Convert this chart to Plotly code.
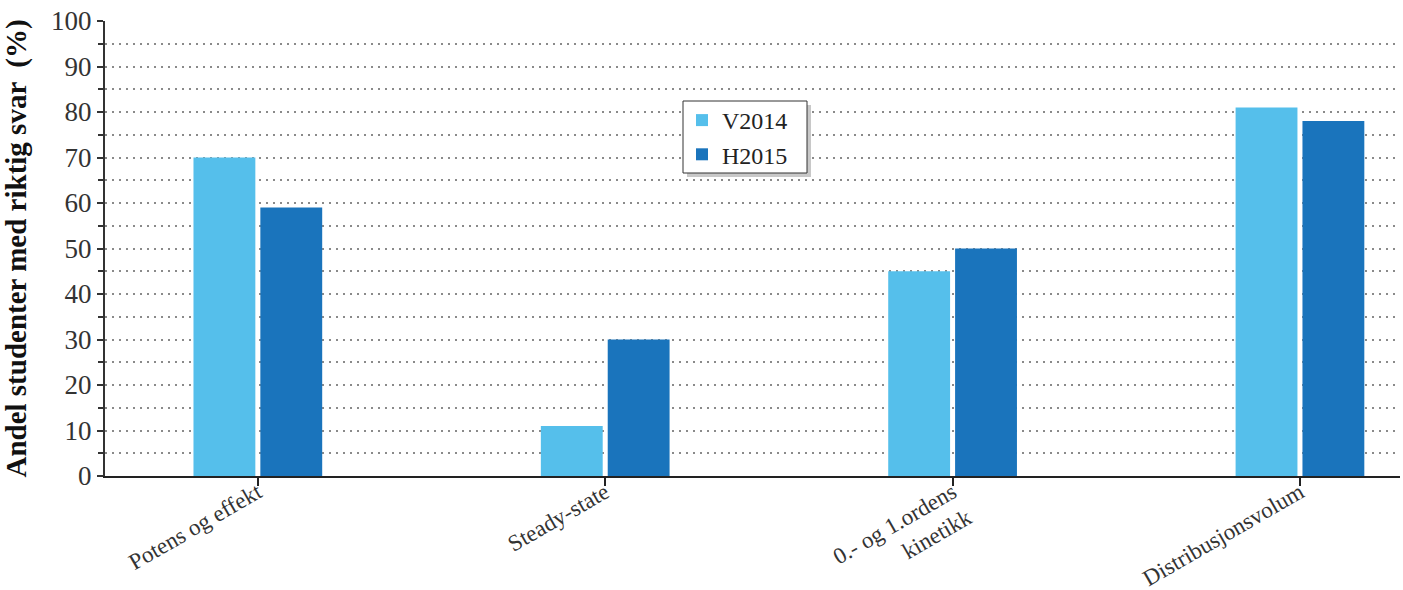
import plotly.graph_objects as go

# Survey results: share of students answering correctly, per topic
categories = ["Potens og effekt", "Steady-state", "0.- og 1.ordens<br>kinetikk", "Distribusjonsvolum"]
v2014 = [70, 11, 45, 81]
h2015 = [59, 30, 50, 78]
series_names = ["V2014", "H2015"]
y_ticks = list(range(0, 101, 10))

LIGHT = "#55BFEB"
DARK = "#1A74BC"
SERIF = "Liberation Serif, Times New Roman, serif"

fig = go.Figure()
fig.add_bar(name=series_names[0], x=categories, y=v2014, marker=dict(color=LIGHT, line=dict(width=0)))
fig.add_bar(name=series_names[1], x=categories, y=h2015, marker=dict(color=DARK, line=dict(width=0)))

W, H = 1403, 590
L, R, T, B = 105, 3, 21, 114
pw, ph = W - L - R, H - T - B


def px_x(x):
    return (x - L) / pw


def px_y(y):
    return (H - B - y) / ph


# framed legend box with a soft drop shadow; the legend entries sit on top
lg_x0, lg_y0, lg_x1, lg_y1 = 683, 101, 807, 173
fig.add_shape(type="rect", xref="paper", yref="paper",
              x0=px_x(lg_x0 + 4), x1=px_x(lg_x1 + 4), y0=px_y(lg_y1 + 4), y1=px_y(lg_y0 + 4),
              fillcolor="#c8c8c8", line=dict(width=0), layer="above")
fig.add_shape(type="rect", xref="paper", yref="paper",
              x0=px_x(lg_x0), x1=px_x(lg_x1), y0=px_y(lg_y1), y1=px_y(lg_y0),
              fillcolor="white", line=dict(color="#333333", width=1), layer="above")

fig.update_layout(
    width=W, height=H,
    margin=dict(l=L, r=R, t=T, b=B, pad=0),
    paper_bgcolor="white", plot_bgcolor="white",
    barmode="group", bargap=0.615, bargroupgap=0.075,
    font=dict(family=SERIF, color="#333333"),
    legend=dict(
        x=px_x(682), y=px_y(98), xanchor="left", yanchor="top",
        bgcolor="rgba(0,0,0,0)", borderwidth=0,
        font=dict(family=SERIF, size=24, color="#222222"),
        tracegroupgap=0, itemsizing="constant",
    ),
    showlegend=True,
)

fig.update_xaxes(
    range=[-0.44, 3.288], showline=True, linecolor="#222222", linewidth=2,
    ticks="outside", ticklen=8, tickwidth=2, tickcolor="#222222",
    tickangle=-30, tickfont=dict(family=SERIF, size=23, color="#333333"),
    ticklabelstandoff=-16,
    showgrid=False, zeroline=False, automargin=False,
)
fig.update_yaxes(
    range=[0, 100], tickvals=y_ticks, showline=True, linecolor="#333333", linewidth=2,
    ticks="outside", ticklen=6, tickwidth=1.5, tickcolor="#333333",
    tickfont=dict(family=SERIF, size=27, color="#333333"),
    showgrid=True, gridcolor="#8a8a8a", gridwidth=1.5, griddash="2px,5px",
    minor=dict(dtick=5, ticks="outside", ticklen=5, tickcolor="#333333",
               showgrid=True, gridcolor="#8a8a8a", gridwidth=1.5, griddash="2px,5px"),
    zeroline=False, automargin=False,
    title=dict(text="<b>Andel studenter med riktig svar  (%)</b>",
               font=dict(family=SERIF, size=29, color="#111111"), standoff=16),
)

fig.write_html("out.html")
